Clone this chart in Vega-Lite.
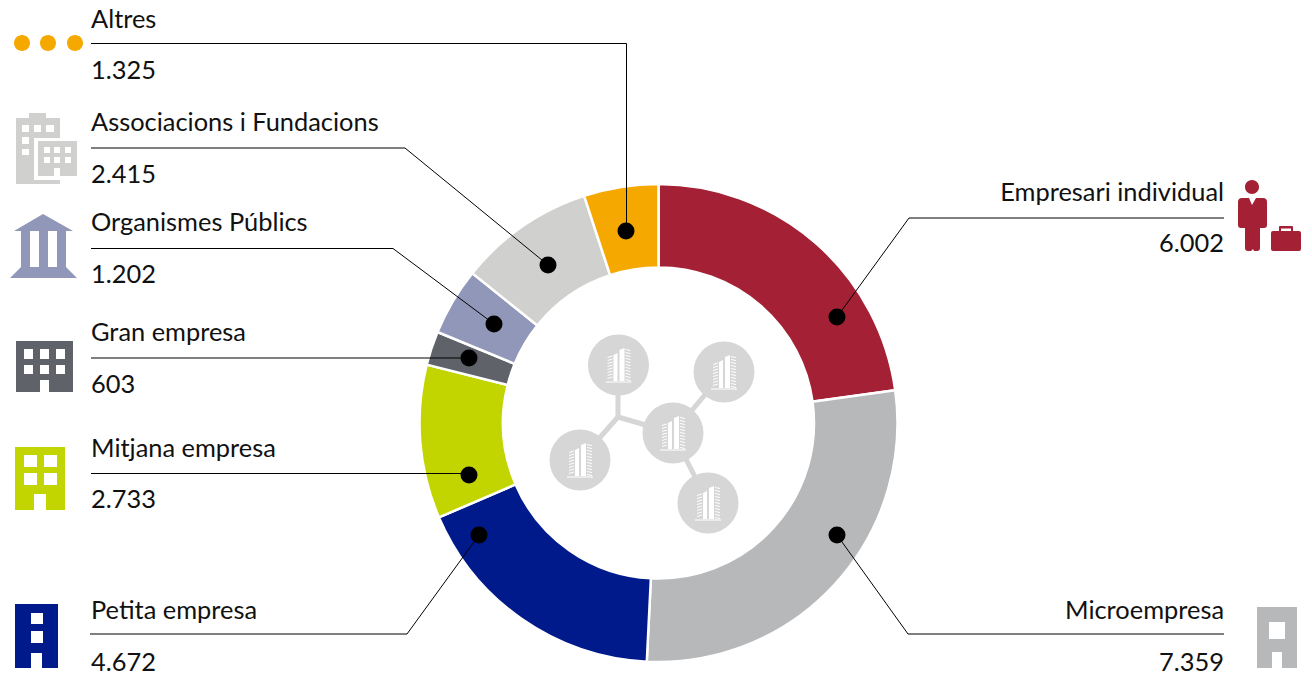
{"$schema":"https://vega.github.io/schema/vega-lite/v6.json","width":1312,"height":677,"padding":0,"autosize":{"type":"fit","contains":"padding"},"background":"white","config":{"view":{"stroke":null}},
"datasets":{
"segments":[{"name":"Empresari individual","value":6002,"order":1},{"name":"Microempresa","value":7359,"order":2},{"name":"Petita empresa","value":4672,"order":3},{"name":"Mitjana empresa","value":2733,"order":4},{"name":"Gran empresa","value":603,"order":5},{"name":"Organismes Públics","value":1202,"order":6},{"name":"Associacions i Fundacions","value":2415,"order":7},{"name":"Altres","value":1325,"order":8}],
"leaders":[{"name":"Altres","step":1,"x":91,"y":43.5},{"name":"Altres","step":2,"x":626.5,"y":43.5},{"name":"Altres","step":3,"x":626.5,"y":231},
{"name":"Associacions i Fundacions","step":1,"x":91,"y":148},{"name":"Associacions i Fundacions","step":2,"x":405,"y":148},{"name":"Associacions i Fundacions","step":3,"x":548,"y":265},
{"name":"Organismes Públics","step":1,"x":91,"y":248.5},{"name":"Organismes Públics","step":2,"x":393,"y":248.5},{"name":"Organismes Públics","step":3,"x":494,"y":324},
{"name":"Gran empresa","step":1,"x":91,"y":358},{"name":"Gran empresa","step":2,"x":469,"y":358},
{"name":"Mitjana empresa","step":1,"x":91,"y":473.5},{"name":"Mitjana empresa","step":2,"x":469,"y":473.5},
{"name":"Petita empresa","step":1,"x":90,"y":634},{"name":"Petita empresa","step":2,"x":407,"y":634},{"name":"Petita empresa","step":3,"x":479,"y":535},
{"name":"Microempresa","step":1,"x":1224,"y":634},{"name":"Microempresa","step":2,"x":908,"y":634},{"name":"Microempresa","step":3,"x":837,"y":535},
{"name":"Empresari individual","step":1,"x":1224,"y":218},{"name":"Empresari individual","step":2,"x":909,"y":218},{"name":"Empresari individual","step":3,"x":837,"y":317}],
"dots":[{"x":626,"y":231},{"x":548,"y":265},{"x":494,"y":324},{"x":469,"y":358},{"x":469,"y":475},{"x":479,"y":535},{"x":837,"y":535},{"x":837,"y":317}],
"labels":[{"t":"Altres","x":91,"y":28,"side":"l"},{"t":"1.325","x":91,"y":79,"side":"l"},{"t":"Associacions i Fundacions","x":91,"y":131,"side":"l"},{"t":"2.415","x":91,"y":183,"side":"l"},{"t":"Organismes Públics","x":91,"y":231,"side":"l"},{"t":"1.202","x":91,"y":283,"side":"l"},{"t":"Gran empresa","x":91,"y":341,"side":"l"},{"t":"603","x":91,"y":393,"side":"l"},{"t":"Mitjana empresa","x":91,"y":457,"side":"l"},{"t":"2.733","x":91,"y":508,"side":"l"},{"t":"Petita empresa","x":91,"y":619,"side":"l"},{"t":"4.672","x":91,"y":671,"side":"l"},{"t":"Empresari individual","x":1224,"y":201,"side":"r"},{"t":"6.002","x":1224,"y":252,"side":"r"},{"t":"Microempresa","x":1224,"y":619,"side":"r"},{"t":"7.359","x":1224,"y":671,"side":"r"}],
"icons":[{"name":"Altres","x":48,"y":43},{"name":"Associacions i Fundacions","x":46,"y":148},{"name":"Organismes Públics","x":43,"y":246},{"name":"Gran empresa","x":44,"y":366},{"name":"Mitjana empresa","x":40,"y":478},{"name":"Petita empresa","x":36,"y":636},{"name":"Microempresa","x":1277,"y":637},{"name":"Empresari individual","x":1270,"y":220}],
"links":[{"link":"a","step":1,"x":618,"y":365},{"link":"a","step":2,"x":618,"y":417},{"link":"a","step":3,"x":673,"y":433},{"link":"b","step":1,"x":580,"y":460},{"link":"b","step":2,"x":618,"y":417},{"link":"c","step":1,"x":724,"y":372},{"link":"c","step":2,"x":673,"y":433},{"link":"c","step":3,"x":708,"y":503}],
"nodes":[{"x":618.5,"y":365},{"x":724,"y":372},{"x":673,"y":433},{"x":580,"y":460},{"x":708,"y":503}]},
"layer":[
{"data":{"name":"segments"},"mark":{"type":"arc","outerRadius":239,"innerRadius":155.5,"stroke":"white","strokeWidth":2.5},"encoding":{"x":{"datum":658.5,"type":"quantitative","scale":{"domain":[0,1312],"nice":false,"zero":false},"axis":null},"y":{"datum":423,"type":"quantitative","scale":{"domain":[677,0],"nice":false,"zero":false},"axis":null},"theta":{"field":"value","type":"quantitative","stack":true},"order":{"field":"order"},"color":{"field":"name","type":"nominal","legend":null,"scale":{"domain":["Empresari individual","Microempresa","Petita empresa","Mitjana empresa","Gran empresa","Organismes Públics","Associacions i Fundacions","Altres"],"range":["#a32035","#b7b8ba","#001a8c","#c2d500","#5f6268","#9097b8","#d0d0ce","#f5a800"]}}}},
{"data":{"name":"links"},"mark":{"type":"line","color":"#d6d6d6","strokeWidth":5},"encoding":{"x":{"field":"x","type":"quantitative","axis":null},"y":{"field":"y","type":"quantitative","axis":null},"detail":{"field":"link"},"order":{"field":"step"}}},
{"data":{"name":"nodes"},"mark":{"type":"point","shape":"circle","filled":true,"color":"#d6d6d6","opacity":1,"size":3721},"encoding":{"x":{"field":"x","type":"quantitative","axis":null},"y":{"field":"y","type":"quantitative","axis":null}}},
{"data":{"name":"nodes"},"mark":{"type":"point","filled":true,"color":"white","opacity":1,"size":4,"strokeWidth":0,"shape":"M-5 -10V17H-1V-12ZM-11 -8L-6 -9.5V-8.5L-11 -7ZM-11 -5L-6 -6.5V-5.5L-11 -4ZM-11 -2L-6 -3.5V-2.5L-11 -1ZM-11 1L-6 -0.5V0.5L-11 2ZM-11 4L-6 2.5V3.5L-11 5ZM-11 7L-6 5.5V6.5L-11 8ZM-11 10L-6 8.5V9.5L-11 11ZM-11 13L-6 11.5V12.5L-11 14ZM1 -15V17H6V-17ZM7 -16L12 -15V-14L7 -15ZM7 -13L12 -12V-11L7 -12ZM7 -10L12 -9V-8L7 -9ZM7 -7L12 -6V-5L7 -6ZM7 -4L12 -3V-2L7 -3ZM7 -1L12 0V1L7 0ZM7 2L12 3V4L7 3ZM7 5L12 6V7L7 6ZM7 8L12 9V10L7 9ZM7 11L12 12V13L7 12ZM7 14L12 15V16L7 15ZM-13 16.5H13V17.5H-13Z"},"encoding":{"x":{"field":"x","type":"quantitative","axis":null},"y":{"field":"y","type":"quantitative","axis":null}}},
{"data":{"name":"leaders"},"mark":{"type":"line","color":"black","strokeWidth":1},"encoding":{"x":{"field":"x","type":"quantitative","axis":null},"y":{"field":"y","type":"quantitative","axis":null},"detail":{"field":"name"},"order":{"field":"step"}}},
{"data":{"name":"dots"},"mark":{"type":"point","shape":"circle","filled":true,"color":"black","opacity":1,"size":289},"encoding":{"x":{"field":"x","type":"quantitative","axis":null},"y":{"field":"y","type":"quantitative","axis":null}}},
{"data":{"name":"icons"},"mark":{"type":"point","filled":true,"opacity":1,"size":4,"strokeWidth":0},"encoding":{"x":{"field":"x","type":"quantitative","axis":null},"y":{"field":"y","type":"quantitative","axis":null},"color":{"field":"name","type":"nominal","legend":null},"shape":{"field":"name","type":"nominal","legend":null,"scale":{"domain":["Empresari individual","Microempresa","Petita empresa","Mitjana empresa","Gran empresa","Organismes Públics","Associacions i Fundacions","Altres"],"range":[
"M-25 -33A7 7 0 1 1 -11 -33A7 7 0 1 1 -25 -33ZM-28 -22H-7Q-3 -22 -3 -18V5Q-3 8 -6 8H-10V28Q-10 31 -13 31H-16L-17 29L-19 31H-22Q-25 31 -25 28V8H-29Q-32 8 -32 5V-18Q-32 -22 -28 -22ZM-21 -22L-18 -15L-14 -22ZM3 11H29Q31 11 31 13V29Q31 31 29 31H3Q1 31 1 29V13Q1 11 3 11ZM9 11V7Q9 6 10 6H22Q23 6 23 7V11H21V8.5H11V11Z",
"M-20 -30H20V31H5V15H-5V31H-20ZM-8 -15V2H8V-15Z",
"M-21 -32H22V32H6V17H-5V32H-21ZM-5 -23V-12H7V-23ZM-5 -5V7H7V-5Z",
"M-25 -31H25V32H6V16H-6V32H-25ZM-16 -23V-11H-3V-23ZM4 -23V-11H17V-23ZM-16 -5V7H-3V-5ZM4 -5V7H17V-5Z",
"M-28 -25H29V26H5V14H-4V26H-28ZM-20 -17V-7H-11V-17ZM-4 -17V-7H5V-17ZM12 -17V-7H21V-17ZM-20 -1V8H-11V-1ZM-4 -1V8H5V-1ZM12 -1V8H21V-1Z",
"M0 -32L30 -15H-29ZM-22 -15H-13V21H-22ZM-4 -15H5V21H-4ZM14 -15H23V21H14ZM-22 21H23L34 32H-33Z",
"M-30 -30H-17V-35H0V-30H14V-10H-12V32H14V36H-30ZM-24 -23V-16H-17V-23ZM-12 -23V-16H-5V-23ZM0 -23V-16H8V-23ZM-24 -11V-4H-17V-11ZM-24 1V7H-17V1ZM-8 -7H31V28H14V20H8V28H-8ZM-2 -1V5H4V-1ZM8 -1V5H14V-1ZM19 -1V5H25V-1ZM-2 9V15H4V9ZM8 9V15H14V9ZM19 9V15H25V9Z",
"M-34 0A8 8 0 1 1 -18 0A8 8 0 1 1 -34 0ZM-8 0A8 8 0 1 1 8 0A8 8 0 1 1 -8 0ZM19 0A8 8 0 1 1 35 0A8 8 0 1 1 19 0Z"]}}}},
{"data":{"name":"labels"},"transform":[{"filter":"datum.side==='l'"}],"mark":{"type":"text","align":"left","baseline":"alphabetic","font":"Lato","fontSize":25.4,"color":"#111"},"encoding":{"x":{"field":"x","type":"quantitative","axis":null},"y":{"field":"y","type":"quantitative","axis":null},"text":{"field":"t"}}},
{"data":{"name":"labels"},"transform":[{"filter":"datum.side==='r'"}],"mark":{"type":"text","align":"right","baseline":"alphabetic","font":"Lato","fontSize":25.4,"color":"#111"},"encoding":{"x":{"field":"x","type":"quantitative","axis":null},"y":{"field":"y","type":"quantitative","axis":null},"text":{"field":"t"}}}
]}
